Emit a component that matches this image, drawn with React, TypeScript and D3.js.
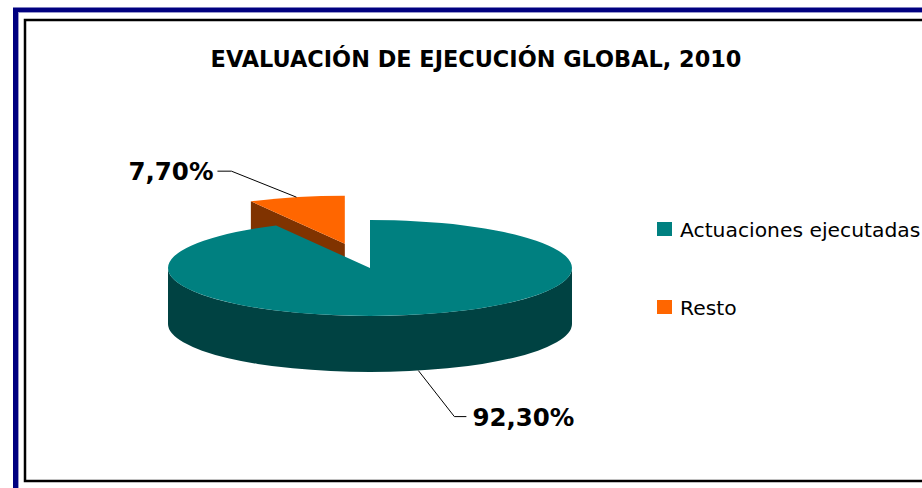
import React from "react";
import * as d3 from "d3";

const categories = ["Actuaciones ejecutadas", "Resto"];
const values = [92.3, 7.7];
const valueLabels = ["92,30%", "7,70%"];
const topColors = ["#008080", "#FF6600"];
const sideColors = ["#004242", "#803300"];
const exploded = [0, 0.52];

const W = 922;
const H = 488;

export default function App() {
  const cx = 370;
  const cy = 268;
  const rx = 202;
  const ry = 48;
  const depth = 56;

  const arcs = d3.pie<number>().sort(null).value((d) => d)(values);

  // projected point on the top ellipse (angle clockwise from 12 o'clock)
  const pt = (t: number, ox: number, oy: number, dz = 0) => [
    ox + rx * Math.sin(t),
    oy - ry * Math.cos(t) + dz,
  ];

  const slices = arcs.map((a, i) => {
    const mid = (a.startAngle + a.endAngle) / 2;
    const e = exploded[i];
    const ox = cx + e * rx * Math.sin(mid);
    const oy = cy - e * ry * Math.cos(mid);
    const [sx, sy] = pt(a.startAngle, ox, oy);
    const [ex, ey] = pt(a.endAngle, ox, oy);
    const large = a.endAngle - a.startAngle > Math.PI ? 1 : 0;
    const top = `M${ox},${oy}L${sx},${sy}A${rx},${ry} 0 ${large} 1 ${ex},${ey}Z`;

    const faces: string[] = [];
    // radial cut faces, only when turned toward the viewer
    if (Math.cos(a.startAngle - Math.PI / 2) < -1e-6) {
      faces.push(`M${ox},${oy}L${sx},${sy}L${sx},${sy + depth}L${ox},${oy + depth}Z`);
    }
    if (Math.cos(a.endAngle + Math.PI / 2) < -1e-6) {
      faces.push(`M${ox},${oy}L${ex},${ey}L${ex},${ey + depth}L${ox},${oy + depth}Z`);
    }
    // outer wall, front half only
    const w0 = Math.max(a.startAngle, Math.PI / 2);
    const w1 = Math.min(a.endAngle, (3 * Math.PI) / 2);
    if (w1 > w0) {
      const [ax, ay] = pt(w0, ox, oy);
      const [bx, by] = pt(w1, ox, oy);
      faces.push(
        `M${ax},${ay}A${rx},${ry} 0 0 1 ${bx},${by}L${bx},${by + depth}A${rx},${ry} 0 0 0 ${ax},${ay + depth}Z`
      );
    }
    const front = Math.cos(mid) < 0;
    const [mx, my] = pt(mid, ox, oy, front ? depth : 0);
    return { i, top, faces, mid, anchor: [mx, my], front, depthOrder: -Math.cos(mid) };
  });

  const drawOrder = [...slices].sort((p, q) => p.depthOrder - q.depthOrder);

  return (
    <svg
      width={W}
      height={H}
      style={{ position: "absolute", left: 0, top: 0, background: "#fff" }}
      fontFamily="'DejaVu Sans', Verdana, sans-serif"
    >
      {/* frames */}
      <rect x={15.5} y={10} width={W + 20} height={H + 20} fill="none" stroke="#000080" strokeWidth={5} />
      <rect x={18.5} y={12.5} width={W + 20} height={H + 20} fill="none" stroke="#9999CC" strokeWidth={1} />
      <rect x={25} y={20} width={W + 20} height={461} fill="none" stroke="#000" strokeWidth={2.5} />

      <text x={476} y={67} textAnchor="middle" fontSize={22.4} fontWeight="bold" fill="#000">
        EVALUACIÓN DE EJECUCIÓN GLOBAL, 2010
      </text>

      {drawOrder.map((s) => (
        <g key={s.i}>
          {s.faces.map((f, k) => (
            <path key={k} d={f} fill={sideColors[s.i]} />
          ))}
          <path d={s.top} fill={topColors[s.i]} />
        </g>
      ))}

      {slices.map((s) => {
        const [ax, ay] = s.anchor;
        const left = Math.sin(s.mid) < 0;
        const elbow = s.front ? [ax + 36, ay + 46] : [ax - 65, ay - 26];
        const end = [elbow[0] + (left ? -14 : 12), elbow[1]];
        return (
          <g key={`l${s.i}`}>
            <polyline
              points={`${ax},${ay} ${elbow[0]},${elbow[1]} ${end[0]},${end[1]}`}
              fill="none"
              stroke="#000"
              strokeWidth={1}
            />
            <text
              x={end[0] + (left ? -4 : 6)}
              y={end[1] + 9}
              textAnchor={left ? "end" : "start"}
              fontSize={24.5}
              fontWeight="bold"
              fill="#000"
            >
              {valueLabels[s.i]}
            </text>
          </g>
        );
      })}

      {categories.map((c, i) => (
        <g key={c} transform={`translate(657,${222 + i * 78})`}>
          <rect width={15} height={14} fill={topColors[i]} />
          <text x={23} y={15} fontSize={20.3} fill="#000">
            {c}
          </text>
        </g>
      ))}
    </svg>
  );
}
